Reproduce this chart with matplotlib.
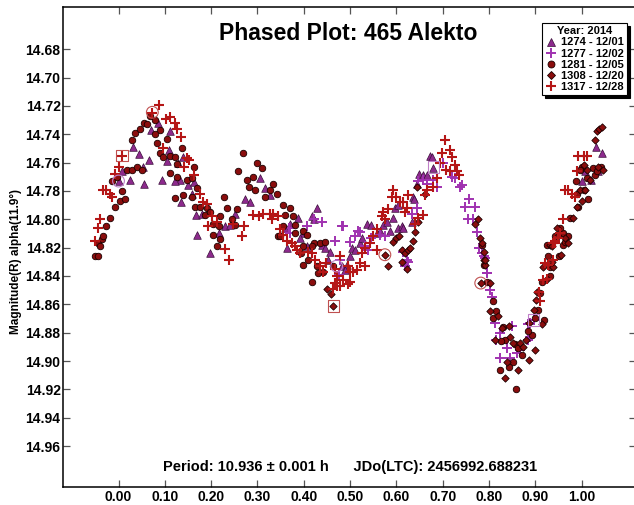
import matplotlib
matplotlib.use("Agg")
import matplotlib.pyplot as plt
from matplotlib.lines import Line2D

plt.rcParams['font.family'] = ['Liberation Sans', 'DejaVu Sans']
plt.rcParams['font.weight'] = 'bold'

# ---- observations: (phase, magnitude) per session ----
s1274 = [(-0.000, 14.773), (0.025, 14.772), (0.007, 14.766), (0.032, 14.749), (0.045, 14.754),
         (0.052, 14.763), (0.066, 14.758), (0.055, 14.775), (0.093, 14.772), (0.086, 14.732),
         (0.071, 14.737), (0.111, 14.738), (0.108, 14.751), (0.104, 14.759), (0.129, 14.760),
         (0.140, 14.756), (0.133, 14.772), (0.122, 14.773), (0.151, 14.776), (0.162, 14.774),
         (0.158, 14.782), (0.134, 14.788), (0.168, 14.797), (0.180, 14.796), (0.170, 14.811),
         (0.198, 14.824), (0.216, 14.810), (0.230, 14.805), (0.241, 14.804), (0.252, 14.796),
         (0.273, 14.786), (0.284, 14.788), (0.305, 14.771), (0.316, 14.778), (0.327, 14.783),
         (0.428, 14.792), (0.417, 14.798), (0.421, 14.800), (0.388, 14.799), (0.370, 14.803),
         (0.359, 14.806), (0.399, 14.810), (0.392, 14.813), (0.406, 14.819), (0.363, 14.820),
         (0.439, 14.818), (0.446, 14.820), (0.457, 14.823), (0.453, 14.829), (0.482, 14.833),
         (0.493, 14.832), (0.489, 14.836), (0.500, 14.826), (0.503, 14.820), (0.510, 14.822),
         (0.521, 14.817), (0.525, 14.813), (0.536, 14.803), (0.546, 14.804), (0.557, 14.810),
         (0.564, 14.808), (0.572, 14.804), (0.579, 14.802), (0.586, 14.808), (0.593, 14.799),
         (0.604, 14.806), (0.611, 14.805), (0.615, 14.806), (0.597, 14.792), (0.604, 14.790),
         (0.636, 14.784), (0.644, 14.775), (0.649, 14.768), (0.658, 14.769), (0.665, 14.769),
         (0.672, 14.755), (0.677, 14.756), (0.680, 14.764), (0.633, 14.802), (0.638, 14.786),
         (1.031, 14.749), (1.043, 14.753), (1.000, 14.773), (1.007, 14.766), (1.021, 14.772),
         (1.036, 14.766)]

s1277 = [(0.367, 14.806), (0.370, 14.810), (0.406, 14.805), (0.421, 14.800), (0.439, 14.802),
         (0.482, 14.805), (0.485, 14.805), (0.467, 14.815), (0.475, 14.839), (0.478, 14.829),
         (0.500, 14.816), (0.510, 14.812), (0.518, 14.808), (0.521, 14.809), (0.532, 14.819),
         (0.539, 14.822), (0.546, 14.813), (0.564, 14.811), (0.575, 14.812), (0.615, 14.823),
         (0.622, 14.829), (0.618, 14.833), (0.626, 14.830), (0.633, 14.796), (0.644, 14.792),
         (0.647, 14.773), (0.658, 14.772), (0.665, 14.775), (0.680, 14.772), (0.687, 14.777),
         (0.701, 14.760), (0.719, 14.770), (0.726, 14.771), (0.737, 14.777), (0.741, 14.776),
         (0.748, 14.791), (0.757, 14.786), (0.770, 14.791), (0.755, 14.800), (0.766, 14.800),
         (0.773, 14.809), (0.779, 14.820), (0.784, 14.824), (0.788, 14.826), (0.796, 14.838),
         (0.802, 14.850), (0.806, 14.855), (0.791, 14.827), (0.795, 14.838), (0.813, 14.873),
         (0.824, 14.880), (0.816, 14.885), (0.838, 14.891), (0.824, 14.898), (0.845, 14.898),
         (0.849, 14.875), (0.860, 14.894), (0.867, 14.892), (0.885, 14.885), (0.888, 14.883),
         (0.885, 14.874), (0.896, 14.871), (0.888, 14.873)]

s1281 = [(-0.051, 14.826), (-0.045, 14.826), (-0.044, 14.817), (-0.036, 14.814), (-0.040, 14.819),
         (-0.033, 14.812), (-0.026, 14.805), (-0.018, 14.799), (-0.008, 14.791), (0.003, 14.787),
         (0.014, 14.786), (-0.015, 14.773), (-0.004, 14.770), (0.007, 14.780), (0.018, 14.765),
         (0.029, 14.765), (0.039, 14.763), (0.050, 14.765), (0.029, 14.744), (0.036, 14.739),
         (0.047, 14.736), (0.054, 14.732), (0.062, 14.733), (0.068, 14.727), (0.079, 14.730),
         (0.090, 14.737), (0.079, 14.740), (0.083, 14.746), (0.090, 14.753), (0.104, 14.743),
         (0.097, 14.756), (0.111, 14.755), (0.122, 14.756), (0.126, 14.761), (0.137, 14.750),
         (0.111, 14.767), (0.126, 14.770), (0.147, 14.772), (0.158, 14.771), (0.162, 14.763),
         (0.169, 14.778), (0.122, 14.785), (0.140, 14.783), (0.158, 14.784), (0.165, 14.791),
         (0.176, 14.791), (0.191, 14.792), (0.187, 14.797), (0.198, 14.795), (0.205, 14.803),
         (0.216, 14.805), (0.205, 14.811), (0.212, 14.819), (0.219, 14.798), (0.227, 14.784),
         (0.234, 14.792), (0.245, 14.800), (0.255, 14.793), (0.252, 14.804), (0.259, 14.766),
         (0.268, 14.753), (0.277, 14.772), (0.299, 14.760), (0.309, 14.764), (0.291, 14.770),
         (0.281, 14.777), (0.295, 14.779), (0.317, 14.784), (0.327, 14.779), (0.342, 14.782),
         (0.345, 14.812), (0.219, 14.814), (0.334, 14.775), (0.356, 14.790), (0.370, 14.792),
         (0.359, 14.797), (0.377, 14.798), (0.381, 14.804), (0.399, 14.808), (0.356, 14.805),
         (0.349, 14.812), (0.381, 14.810), (0.406, 14.811), (0.421, 14.817), (0.435, 14.817),
         (0.446, 14.816), (0.399, 14.819), (0.417, 14.819), (0.395, 14.824), (0.410, 14.829),
         (0.428, 14.833), (0.442, 14.837), (0.431, 14.838), (0.399, 14.832), (0.417, 14.844),
         (0.464, 14.833), (0.784, 14.818), (0.788, 14.832), (0.795, 14.844), (0.809, 14.858),
         (0.815, 14.865), (0.808, 14.870), (0.831, 14.876), (0.834, 14.885), (0.825, 14.886),
         (0.856, 14.888), (0.863, 14.891), (0.870, 14.896), (0.852, 14.901), (0.842, 14.904),
         (0.824, 14.906), (0.858, 14.920), (0.892, 14.882), (0.883, 14.879), (0.899, 14.870),
         (0.919, 14.871), (0.906, 14.864), (0.910, 14.852), (0.914, 14.844), (0.932, 14.840),
         (0.932, 14.834), (0.928, 14.826), (0.950, 14.826), (0.960, 14.818), (0.924, 14.818),
         (1.000, 14.763), (0.996, 14.765), (1.025, 14.764), (1.029, 14.769), (1.041, 14.763),
         (1.032, 14.766), (1.011, 14.771), (0.987, 14.773), (1.004, 14.779), (0.989, 14.782),
         (1.014, 14.786), (0.993, 14.791), (0.975, 14.799), (0.971, 14.812), (0.959, 14.810),
         (0.953, 14.806), (0.942, 14.812), (0.964, 14.816)]

s1308 = [(0.575, 14.825), (0.582, 14.833), (0.593, 14.816), (0.600, 14.813), (0.606, 14.812),
         (0.611, 14.822), (0.618, 14.824), (0.626, 14.822), (0.629, 14.820), (0.613, 14.830),
         (0.622, 14.835), (0.636, 14.815), (0.640, 14.809), (0.647, 14.802), (0.644, 14.777),
         (0.662, 14.782), (0.451, 14.849), (0.459, 14.853), (0.464, 14.861), (0.770, 14.803),
         (0.777, 14.800), (0.780, 14.813), (0.784, 14.817), (0.788, 14.823), (0.790, 14.829),
         (0.791, 14.832), (0.791, 14.829), (0.782, 14.845), (0.802, 14.845), (0.802, 14.865),
         (0.820, 14.868), (0.827, 14.877), (0.842, 14.875), (0.845, 14.883), (0.813, 14.885),
         (0.851, 14.887), (0.867, 14.887), (0.874, 14.890), (0.887, 14.899), (0.838, 14.901),
         (0.863, 14.906), (0.834, 14.912), (0.899, 14.892), (0.880, 14.885), (0.887, 14.873),
         (0.914, 14.874), (0.896, 14.864), (0.901, 14.857), (0.903, 14.851), (0.924, 14.842),
         (0.917, 14.834), (0.939, 14.834), (0.935, 14.830), (0.955, 14.825), (0.932, 14.818),
         (1.034, 14.738), (1.038, 14.736), (1.043, 14.735), (1.029, 14.744), (1.004, 14.762),
         (1.011, 14.765), (1.036, 14.763), (1.045, 14.765), (1.018, 14.772), (0.996, 14.779),
         (1.007, 14.779), (1.000, 14.787), (0.989, 14.791), (0.982, 14.799), (0.964, 14.813),
         (0.946, 14.806), (0.949, 14.812), (0.971, 14.817), (0.935, 14.819)]

s1317 = [(-0.051, 14.815), (-0.044, 14.806), (-0.040, 14.800), (-0.033, 14.779), (-0.026, 14.779),
         (-0.018, 14.782), (-0.013, 14.784), (-0.008, 14.768), (-0.000, 14.763), (0.007, 14.755),
         (0.073, 14.725), (0.088, 14.719), (0.103, 14.729), (0.111, 14.728), (0.122, 14.732),
         (0.126, 14.736), (0.134, 14.742), (0.147, 14.757), (0.142, 14.763), (0.153, 14.758),
         (0.163, 14.769), (0.176, 14.782), (0.183, 14.788), (0.191, 14.789), (0.201, 14.798),
         (0.212, 14.802), (0.194, 14.805), (0.230, 14.821), (0.239, 14.829), (0.248, 14.803),
         (0.270, 14.805), (0.266, 14.812), (0.291, 14.797), (0.303, 14.798), (0.313, 14.796),
         (0.334, 14.796), (0.345, 14.798), (0.097, 14.750),
         (0.705, 14.744), (0.716, 14.751), (0.719, 14.756), (0.698, 14.753), (0.694, 14.760),
         (0.708, 14.765), (0.726, 14.762), (0.730, 14.766), (0.734, 14.769), (0.716, 14.766),
         (0.687, 14.771), (0.680, 14.777), (0.665, 14.779), (0.662, 14.783), (0.593, 14.779),
         (0.590, 14.784), (0.600, 14.784), (0.608, 14.788), (0.615, 14.788), (0.622, 14.792),
         (0.626, 14.783), (0.618, 14.795), (0.582, 14.793), (0.572, 14.795), (0.575, 14.800),
         (0.568, 14.798), (0.557, 14.807), (0.550, 14.812), (0.543, 14.817), (0.532, 14.820),
         (0.525, 14.824), (0.521, 14.831), (0.532, 14.833), (0.514, 14.836), (0.507, 14.837),
         (0.500, 14.837), (0.496, 14.833), (0.467, 14.835), (0.471, 14.840), (0.485, 14.843),
         (0.496, 14.846), (0.467, 14.845), (0.471, 14.847), (0.464, 14.849), (0.478, 14.847),
         (0.500, 14.844), (0.442, 14.837), (0.435, 14.833), (0.449, 14.831), (0.424, 14.829),
         (0.417, 14.824), (0.410, 14.823), (0.392, 14.824), (0.385, 14.822), (0.381, 14.819),
         (0.374, 14.817), (0.363, 14.815), (0.356, 14.811), (0.349, 14.807), (0.331, 14.800),
         (0.327, 14.796), (0.658, 14.797), (0.647, 14.799), (0.640, 14.803), (0.478, 14.826),
         (0.557, 14.822),
         (0.910, 14.858), (0.908, 14.851), (0.917, 14.843), (0.924, 14.842), (0.928, 14.832),
         (0.921, 14.831), (0.937, 14.829), (0.942, 14.817),
         (0.993, 14.755), (1.004, 14.755), (1.011, 14.755), (0.989, 14.766), (0.964, 14.779),
         (0.971, 14.779), (0.978, 14.782), (0.985, 14.784), (0.960, 14.800), (0.953, 14.810),
         (0.949, 14.813), (0.942, 14.815), (0.939, 14.817)]

# first/last points of sessions, drawn as open rings and boxes
ring_red = [(0.073, 14.7245), (0.575, 14.825), (0.782, 14.845)]
box_red = [(0.007, 14.755), (0.464, 14.861)]
ring_purple = [(0.000, 14.773), (0.471, 14.833)]
box_purple = [(0.680, 14.763), (0.896, 14.871)]

session_labels = ["1274 - 12/01", "1277 - 12/02", "1281 - 12/05", "1308 - 12/20", "1317 - 12/28"]
x_ticks = [0.0, 0.1, 0.2, 0.3, 0.4, 0.5, 0.6, 0.7, 0.8, 0.9, 1.0]
y_ticks = [14.68, 14.70, 14.72, 14.74, 14.76, 14.78, 14.80, 14.82, 14.84, 14.86, 14.88,
           14.90, 14.92, 14.94, 14.96]

PURPLE_TRI = '#8d2a8d'
PURPLE_PLUS = '#a032b0'
DARK_RED = '#8a0d0d'
RED_PLUS = '#b51616'

W, H = 634, 505
fig = plt.figure(figsize=(W / 100, H / 100), dpi=100)
ax_l, ax_r, ax_t, ax_b = 62.7, 635.5, 7.3, 486.7
ax = fig.add_axes([ax_l / W, 1 - ax_b / H, (ax_r - ax_l) / W, (ax_b - ax_t) / H])


def xy(pairs):
    return [p for p, _ in pairs], [m for _, m in pairs]


styles = [
    (s1274, dict(marker='^', s=30, facecolor=PURPLE_TRI, edgecolor='#3a0f3a', linewidths=0.5)),
    (s1277, dict(marker='+', s=48, color=PURPLE_PLUS, linewidths=1.4)),
    (s1281, dict(marker='o', s=22, facecolor=DARK_RED, edgecolor='#1a0000', linewidths=0.6)),
    (s1308, dict(marker='D', s=14, facecolor=DARK_RED, edgecolor='#1a0000', linewidths=0.6)),
    (s1317, dict(marker='+', s=52, color=RED_PLUS, linewidths=1.5)),
]
for data, kw in styles:
    px, py = xy(data)
    ax.scatter(px, py, zorder=3, **kw)

for pts, mk, col in [(ring_red, 'o', '#c05050'), (box_red, 's', '#c05050'),
                     (ring_purple, 'o', '#c080c8'), (box_purple, 's', '#c080c8')]:
    px, py = xy(pts)
    ax.scatter(px, py, marker=mk, s=72, facecolor='none', edgecolor=col,
               linewidths=0.8, zorder=4)

ax.set_xlim(-0.1205, 1.1161)
ax.set_ylim(14.9887, 14.6504)
ax.set_xticks(x_ticks)
ax.set_xticklabels([f"{v:.2f}" for v in x_ticks])
ax.set_yticks(y_ticks)
ax.set_yticklabels([f"{v:.2f}" for v in y_ticks])
ax.tick_params(direction='in', length=5, width=0.9, color='#555555',
               top=True, right=True, labelsize=10)
ax.tick_params(axis='y', pad=1.5)
ax.tick_params(axis='x', pad=2.5)
for sp in ax.spines.values():
    sp.set_linewidth(1.1)
    sp.set_color('black')

fig.text(348 / W, 1 - 33 / H, "Phased Plot: 465 Alekto", ha='center', va='center',
         fontsize=16.5, fontweight='bold')
fig.text(350 / W, 1 - 467 / H,
         "Period: 10.936 \u00b1 0.001 h      JDo(LTC): 2456992.688231",
         ha='center', va='center', fontsize=10.5, fontweight='bold')
fig.text(16 / W, 1 - 262 / H, "Magnitude(R) alpha(11.9\u00b0)", rotation=90,
         ha='center', va='center', fontsize=8.5, fontweight='bold')

handles = [
    Line2D([], [], ls='none', marker='^', ms=5.5, mfc=PURPLE_TRI, mec='#3a0f3a', mew=0.5),
    Line2D([], [], ls='none', marker='+', ms=7.5, color=PURPLE_PLUS, mew=1.4),
    Line2D([], [], ls='none', marker='o', ms=5, mfc=DARK_RED, mec='#1a0000', mew=0.6),
    Line2D([], [], ls='none', marker='D', ms=4, mfc=DARK_RED, mec='#1a0000', mew=0.6),
    Line2D([], [], ls='none', marker='+', ms=7.5, color=RED_PLUS, mew=1.5),
]
leg = ax.legend(handles, session_labels, title="Year: 2014", loc='upper right',
                bbox_to_anchor=(627 / W, 1 - 23 / H), bbox_transform=fig.transFigure,
                fontsize=8, title_fontsize=8, frameon=True, fancybox=False,
                shadow={'color': 'black', 'alpha': 1.0}, borderpad=0.3,
                labelspacing=0.1, handlelength=1.0, handletextpad=0.4,
                borderaxespad=0.0)
leg.get_title().set_fontweight('bold')
leg.get_frame().set_edgecolor('black')
leg.get_frame().set_linewidth(0.8)
leg.set_zorder(10)

fig.savefig("out.png", dpi=100)
